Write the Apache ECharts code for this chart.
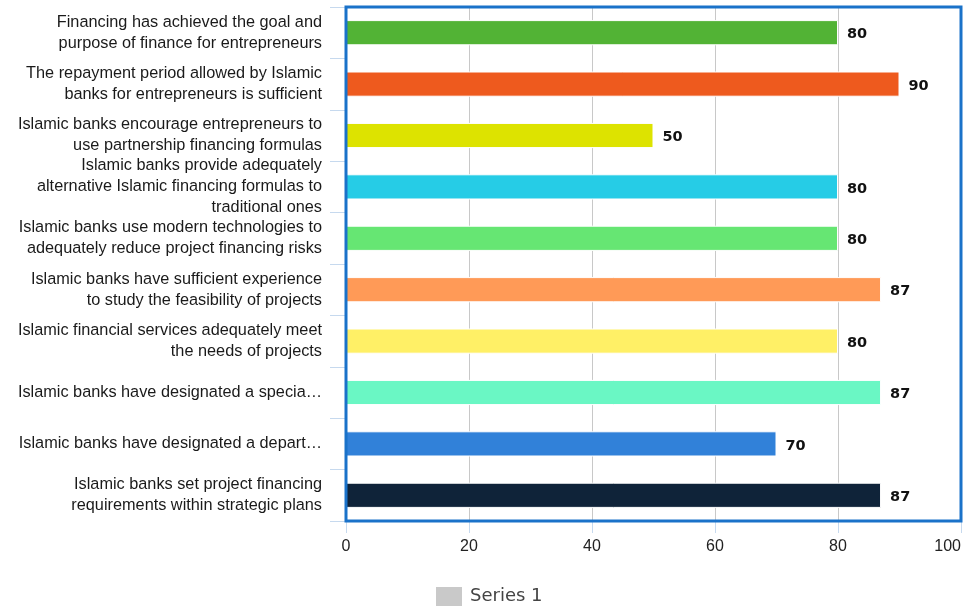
<!DOCTYPE html>
<html>
<head>
<meta charset="utf-8">
<script src="https://cdn.jsdelivr.net/npm/echarts@6/dist/echarts.min.js"></script>
<style>
  html, body { margin: 0; padding: 0; background: #ffffff; }
  #chart { width: 965px; height: 607px; }
</style>
</head>
<body>
<div id="chart"></div>
<script>
// Survey statements (top to bottom) and their agreement scores
const categories = [
  'Financing has achieved the goal and\npurpose of finance for entrepreneurs',
  'The repayment period allowed by Islamic\nbanks for entrepreneurs is sufficient',
  'Islamic banks encourage entrepreneurs to\nuse partnership financing formulas',
  'Islamic banks provide adequately\nalternative Islamic financing formulas to\ntraditional ones',
  'Islamic banks use modern technologies to\nadequately reduce project financing risks',
  'Islamic banks have sufficient experience\nto study the feasibility of projects',
  'Islamic financial services adequately meet\nthe needs of projects',
  'Islamic banks have designated a specia\u2026',
  'Islamic banks have designated a depart\u2026',
  'Islamic banks set project financing\nrequirements within strategic plans'
];
const values = [80, 90, 50, 80, 80, 87, 80, 87, 70, 87];
const barColors = [
  '#52b335', '#ee5a1e', '#dde300', '#26cce6', '#66e673',
  '#ff9a57', '#fff066', '#6af7c4', '#3181d9', '#0f2339'
];
const xTicks = [0, 20, 40, 60, 80, 100];
const seriesName = 'Series 1';

const chart = echarts.init(document.getElementById('chart'), null, { renderer: 'canvas' });

chart.setOption({
  animation: false,
  textStyle: { fontFamily: 'Liberation Sans, Arial, sans-serif' },
  grid: {
    left: 346, right: 4, top: 7, bottom: 86,
    containLabel: false,
    outerBoundsMode: 'none',
    show: true,
    borderColor: '#1a72c9',
    borderWidth: 3,
    backgroundColor: 'transparent',
    z: 3
  },
  legend: {
    data: [seriesName],
    left: 431, top: 582,
    itemWidth: 26, itemHeight: 19,
    itemGap: 8,
    icon: 'rect',
    itemStyle: { color: '#c9c9c9' },
    textStyle: { fontFamily: 'DejaVu Sans, sans-serif', fontSize: 18, color: '#444444', padding: [0, 0, 0, 3] }
  },
  xAxis: {
    type: 'value',
    min: xTicks[0],
    max: xTicks[xTicks.length - 1],
    interval: 20,
    axisLine: { show: false },
    axisTick: { show: true, length: 12, lineStyle: { color: '#c6d9ee', width: 1 } },
    axisLabel: { fontSize: 16, color: '#222222', margin: 18, alignMaxLabel: 'right' },
    splitLine: { show: true, lineStyle: { color: '#c8c8c8', width: 1 } }
  },
  yAxis: {
    type: 'category',
    inverse: true,
    data: categories,
    axisLine: { show: false },
    axisTick: { show: true, length: 16, alignWithLabel: false, lineStyle: { color: '#c6d9ee', width: 1 } },
    axisLabel: {
      fontSize: 16.3, color: '#1a1a1a', margin: 24,
      align: 'right', lineHeight: 21
    },
    splitLine: { show: false }
  },
  series: [{
    name: seriesName,
    type: 'bar',
    barWidth: '49%',
    itemStyle: { color: '#c9c9c9' },
    data: values.map((v, i) => ({
      value: v,
      itemStyle: { color: barColors[i], borderColor: '#ffffff', borderWidth: 1 }
    })),
    label: {
      show: true,
      position: 'right',
      distance: 9,
      offset: [0, 2],
      fontSize: 14.5,
      fontWeight: 'bold',
      color: '#111111',
      fontFamily: 'DejaVu Sans, sans-serif'
    }
  }]
});
</script>
</body>
</html>
